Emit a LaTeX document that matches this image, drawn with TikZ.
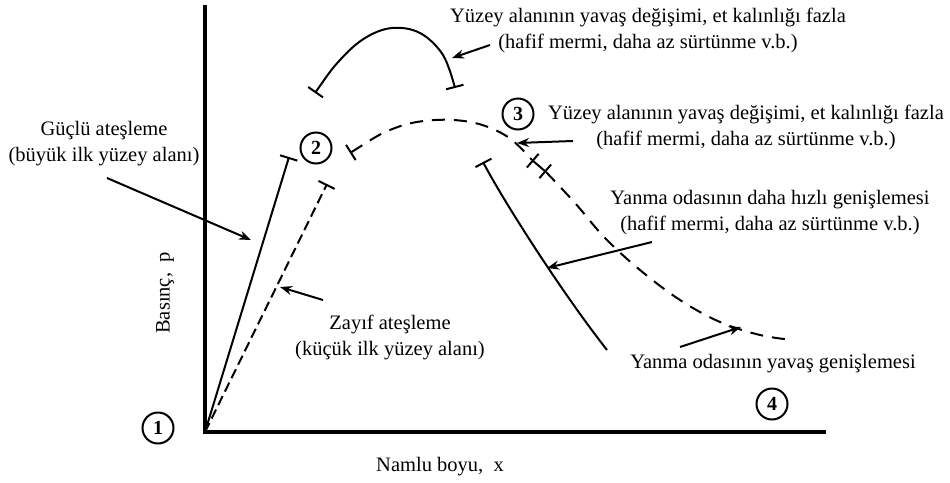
\documentclass[tikz,border=0pt]{standalone}
\usepackage{fontspec}
\setmainfont{Liberation Serif}
\usetikzlibrary{arrows.meta}
\begin{document}
\begin{tikzpicture}[x=1pt,y=-1pt,
  lbl/.style={font=\fontsize{20.5}{26}\selectfont, align=center, inner sep=0pt},
  num/.style={circle, draw, line width=2pt, minimum size=31pt, inner sep=0pt, font=\fontsize{20}{20}\selectfont\bfseries},
  axis/.style={line width=3.2pt},
  curve/.style={line width=2pt},
  dcurve/.style={line width=2pt, dash pattern=on 13pt off 9pt},
  ptr/.style={line width=2pt, -{Stealth[length=12pt,width=9pt]}},
  tbar/.style={{Bar[width=18pt,line width=2pt]}-},
  tbarend/.style={-{Bar[width=18pt,line width=2pt]}},
  tbarboth/.style={{Bar[width=18pt,line width=2pt]}-{Bar[width=18pt,line width=2pt]}}
]
\useasboundingbox (0,0) rectangle (950,482);
% axes
\coordinate (O) at (205,432);
\coordinate (ytop) at (205,5);
\coordinate (xend) at (826,432);
\draw[axis] (ytop) -- (O) -- (xend);
% state circles
\node[num] (c1) at (158,428) {1};
\node[num] (c2) at (316,148) {2};
\node[num] (c3) at (518,114) {3};
\node[num] (c4) at (772,404) {4};
% ignition lines
\coordinate (s2) at (289,157);
\coordinate (w2) at (327,184);
\draw[curve, tbarend] (O) -- (s2);
\draw[curve, tbarend, dash pattern=on 10pt off 5pt] (O) -- (w2);
% dashed main curve
\coordinate (d0) at (350,153);
\coordinate (d1) at (532,160);
\coordinate (d2) at (546,172);
\coordinate (d3) at (793,340);
\draw[dcurve, tbar] plot[smooth, tension=0.6] coordinates {(d0) (395,128) (435,120) (475,123) (508,137) (d1)};
\draw[curve, tbarboth] (d1) -- (d2);
\draw[dcurve] plot[smooth, tension=0.6] coordinates {(d2) (575,203) (605,238) (640,270) (680,300) (720,322) (760,335) (d3)};
% solid right curve
\coordinate (r0) at (483,162);
\coordinate (r1) at (607,350);
\draw[curve, tbar] (r0) .. controls (503,200) and (560,290) .. (r1);
% top arc
\coordinate (a0) at (315,93);
\coordinate (a1) at (455,88);
\draw[curve, tbarboth] plot[smooth, tension=0.6] coordinates {(a0) (340,60) (365,38) (392,28) (420,33) (443,55) (a1)};
% labels
\node[lbl] (t1) at (648,30) {Yüzey alanının yavaş değişimi, et kalınlığı fazla\\(hafif mermi, daha az sürtünme v.b.)};
\node[lbl] (t2) at (746,127) {Yüzey alanının yavaş değişimi, et kalınlığı fazla\\(hafif mermi, daha az sürtünme v.b.)};
\node[lbl] (t3) at (770,213) {Yanma odasının daha hızlı genişlemesi\\(hafif mermi, daha az sürtünme v.b.)};
\node[lbl] (t4) at (773,364) {Yanma odasının yavaş genişlemesi};
\node[lbl] (t5) at (104,144) {Güçlü ateşleme\\(büyük ilk yüzey alanı)};
\node[lbl] (t6) at (390,337) {Zayıf ateşleme\\(küçük ilk yüzey alanı)};
\node[lbl, rotate=90] (ylab) at (165,293) {Basınç,\ \ p};
\node[lbl] (xlab) at (440,467) {Namlu boyu,\ \ x};
% pointers
\coordinate (p1s) at (490,45);  \coordinate (p1e) at (452,58);
\coordinate (p2s) at (573,141); \coordinate (p2e) at (517,143);
\coordinate (p3s) at (652,242); \coordinate (p3e) at (547,268);
\coordinate (p4s) at (680,347); \coordinate (p4e) at (741,327);
\coordinate (p5s) at (107,178); \coordinate (p5e) at (251,240);
\coordinate (p6s) at (323,300); \coordinate (p6e) at (280,287);
\draw[ptr] (p1s) -- (p1e);
\draw[ptr] (p2s) -- (p2e);
\draw[ptr] (p3s) -- (p3e);
\draw[ptr] (p4s) -- (p4e);
\draw[ptr] (p5s) -- (p5e);
\draw[ptr] (p6s) -- (p6e);
\end{tikzpicture}
\end{document}
